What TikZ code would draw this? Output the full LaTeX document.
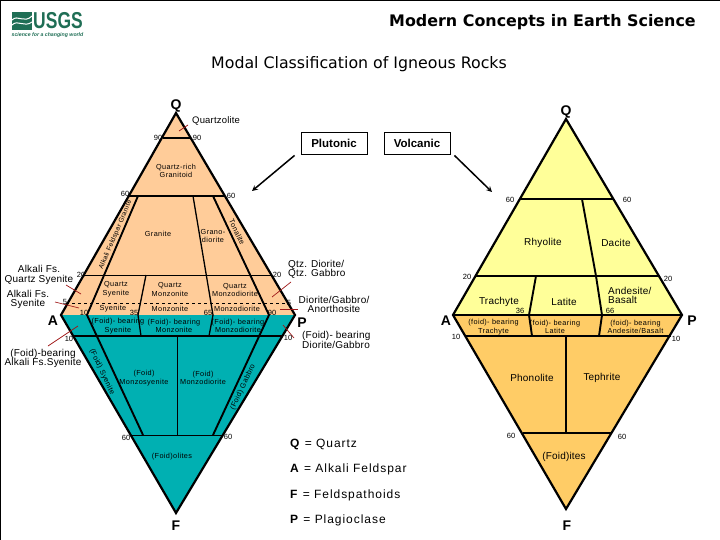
\documentclass[tikz,border=0pt]{standalone}
\usepackage{fontspec}
\setmainfont{Liberation Sans}
\newfontfamily\headfont{DejaVu Sans}
\newfontfamily\wideletters[LetterSpace=5]{Liberation Sans}
\newfontfamily\roomyletters[LetterSpace=2]{Liberation Sans}
\newfontfamily\keyletters[LetterSpace=8]{Liberation Sans}
\definecolor{peach}{HTML}{FFCC99}
\definecolor{foidteal}{HTML}{00B0B2}
\definecolor{paleyellow}{HTML}{FFFF99}
\definecolor{foidorange}{HTML}{FFCC66}
\definecolor{usgsgreen}{HTML}{1F6E55}
\definecolor{leadred}{HTML}{A01818}
\tikzset{
  outline/.style={line width=2.2pt,line join=miter},
  heavy/.style={line width=1.9pt},
  medium/.style={line width=1.3pt},
  light/.style={line width=0.9pt},
  leader/.style={leadred,line width=0.7pt},
  name label/.style={font=\wideletters\fontsize{7.3}{8.6}\selectfont,inner sep=0pt,align=center},
  rock label/.style={font=\roomyletters\fontsize{10}{9.4}\selectfont,inner sep=0pt,align=center},
  side label/.style={font=\roomyletters\fontsize{10}{9.4}\selectfont,inner sep=0pt,align=left,anchor=west},
  num label/.style={font=\fontsize{7.5}{8}\selectfont,inner sep=0pt},
  corner label/.style={font=\bfseries\fontsize{14}{14}\selectfont,inner sep=0pt},
  kind box/.style={draw,line width=0.8pt,minimum width=66pt,minimum height=22pt,inner sep=0pt,font=\bfseries\fontsize{11.5}{12}\selectfont},
  key label/.style={font=\keyletters\fontsize{12}{12}\selectfont,inner sep=0pt,anchor=west},
}
\begin{document}
\begin{tikzpicture}[x=1pt,y=-1pt]
  \useasboundingbox (0,0) rectangle (720,540);
  \draw[line width=2pt] (0,540) -- (0,0) -- (720,0);
  % logo
  \fill[usgsgreen] (12,12) rectangle (32,30);
  \draw[white,line width=1pt] (12,20) .. controls (18,14) and (24,24) .. (32,16);
  \draw[white,line width=1pt] (12,25) .. controls (18,19) and (24,28) .. (32,22);
  \node[usgsgreen,font=\bfseries\fontsize{23}{23}\selectfont,inner sep=0pt,xscale=0.76] (usgs) at (58,21) {USGS};
  \node[usgsgreen,font=\bfseries\itshape\fontsize{5.2}{6}\selectfont,inner sep=0pt] (tagline) at (47.5,35) {science for a changing world};
  % titles
  \node[font=\headfont\bfseries\fontsize{15.9}{16}\selectfont,inner sep=0pt] (course) at (542.5,22) {Modern Concepts in Earth Science};
  \node[font=\headfont\fontsize{15.8}{16}\selectfont,inner sep=0pt] (title) at (359,64) {Modal Classification of Igneous Rocks};
  \node[kind box] (plutonic) at (334,143) {Plutonic};
  \node[kind box] (volcanic) at (417,143) {Volcanic};
  \coordinate (plutTip) at (252,191);
  \coordinate (volcTip) at (492,192);
  \draw[-stealth,line width=1.5pt] (plutonic.south west) ++(-6,1) -- (plutTip);
  \draw[-stealth,line width=1.5pt] (volcanic.south east) ++(4,1) -- (volcTip);

  % plutonic diagram
  \coordinate (lQ) at (176,113);
  \coordinate (lA) at (61,315);
  \coordinate (lP) at (295,315);
  \coordinate (lF) at (176,513);
  \fill[peach] (lQ) -- (lA) -- (lP) -- cycle;
  \fill[foidteal] (lA) -- (lF) -- (lP) -- cycle;
  \coordinate (l90a) at (163,138);
  \coordinate (l90b) at (191,138);
  \coordinate (l60a) at (129,196);
  \coordinate (l60b) at (225,196);
  \coordinate (l20a) at (84,275);
  \coordinate (l20b) at (271,275);
  \coordinate (l5a) at (66,303);
  \coordinate (l5b) at (288,303);
  \coordinate (l10a) at (74,336);
  \coordinate (l10b) at (283,336);
  \coordinate (l60c) at (131,435);
  \coordinate (l60d) at (222,435);
  \coordinate (lAf) at (138,196);
  \coordinate (lAfm) at (87,315);
  \coordinate (lAfs) at (143,435);
  \coordinate (lTo) at (213,196);
  \coordinate (lTom) at (269,315);
  \coordinate (lTos) at (213,435);
  \draw[heavy] (l90a) -- (l90b);
  \draw[heavy] (l60a) -- (l60b);
  \draw[light] (l20a) -- (l20b);
  \draw[light,dashed] (l5a) -- (l5b);
  \draw[heavy] (l10a) -- (l10b);
  \draw[light] (l60c) -- (l60d);
  \draw[heavy] (lAf) -- (lAfm) -- (lAfs);
  \draw[heavy] (lTo) -- (lTom) -- (lTos);
  \draw[medium] (146,275) coordinate (l35t) -- (138,315) coordinate (l35m) -- (141,336) coordinate (l35b);
  \draw[medium] (193,196) coordinate (l65t) -- (213,315) coordinate (l65m) -- (209,336) coordinate (l65b);
  \draw[light] (177,336) coordinate (l50t) -- (177,435) coordinate (l50b);
  \draw[outline] (lQ) -- (lA) -- (lF) -- (lP) -- cycle;

  \draw[leader] (179,131) coordinate (qzA) -- (188,125) coordinate (qzB);
  \draw[leader] (66,285) coordinate (afqA) -- (81,294) coordinate (afqB);
  \draw[leader] (55,302) coordinate (afsA) -- (79,308) coordinate (afsB);
  \draw[leader] (48,346) coordinate (afbA) -- (78,326) coordinate (afbB);
  \draw[leader] (291,282) coordinate (qdA) -- (272,297) coordinate (qdB);
  \draw[leader] (280,309) coordinate (dgA) -- (298,309) coordinate (dgB);
  \draw[leader] (283,325) coordinate (fdA) -- (294,338) coordinate (fdB);

  \node[corner label] (lQl) at (176,106) {Q};
  \node[corner label] (lAl) at (53,321) {A};
  \node[corner label] (lPl) at (302,323) {P};
  \node[corner label] (lFl) at (176,526) {F};
  \node[num label] (n90a) at (158,138) {90};
  \node[num label] (n90b) at (197,138) {90};
  \node[num label] (n60a) at (125,194) {60};
  \node[num label] (n60b) at (231,196) {60};
  \node[num label] (n20a) at (81,275) {20};
  \node[num label] (n20b) at (277,275) {20};
  \node[num label] (n5a) at (65,302) {5};
  \node[num label] (n5b) at (289,303) {5};
  \node[num label] (n10a) at (84,313) {10};
  \node[num label] (n35) at (134,313) {35};
  \node[num label] (n65) at (208,313) {65};
  \node[num label] (n90c) at (272,313) {90};
  \node[num label] (n10b) at (69,339) {10};
  \node[num label] (n10c) at (288,338) {10};
  \node[num label] (n60c) at (126,438) {60};
  \node[num label] (n60d) at (228,437) {60};

  \node[rock label,anchor=west,font=\roomyletters\fontsize{9.5}{9}\selectfont] (quartzolite) at (192,121) {Quartzolite};
  \node[name label] (qrich) at (176,171) {Quartz-rich\\Granitoid};
  \node[name label] (granite) at (158,234) {Granite};
  \node[name label] (grano) at (213,236) {Grano-\\diorite};
  \node[name label,rotate=67,font=\wideletters\fontsize{6.7}{8}\selectfont] (afgranite) at (115.5,235) {Alkali Feldspar Granite};
  \node[name label,rotate=-65] (tonalite) at (237,232) {Tonalite};
  \node[name label] (qsy) at (116,289.5) {Quartz\\Syenite};
  \node[name label] (qmz) at (170,289.5) {Quartz\\Monzonite};
  \node[name label] (qmd) at (235,290) {Quartz\\Monzodiorite};
  \node[name label] (sy) at (113,309) {Syenite};
  \node[name label] (mz) at (170,309) {Monzonite};
  \node[name label] (md) at (237,309) {Monzodiorite};
  \node[name label] (fsy) at (118,326) {(Foid)- bearing\\Syenite};
  \node[name label] (fmz) at (174,326) {(Foid)- bearing\\Monzonite};
  \node[name label] (fmd) at (238,326) {(Foid)- bearing\\Monzodiorite};
  \node[name label,rotate=-65] (foidsy) at (102,372) {(Foid) Syenite};
  \node[name label] (fmzs) at (144,378) {(Foid)\\Monzosyenite};
  \node[name label] (fmzd) at (203,378) {(Foid)\\Monzodiorite};
  \node[name label,rotate=65] (foidgb) at (243,387) {(Foid) Gabbro};
  \node[name label] (foidolites) at (172,457) {(Foid)olites};

  \node[rock label] (afqs) at (39,275) {Alkali Fs.\\Quartz Syenite};
  \node[rock label] (afs) at (28,299.5) {Alkali Fs.\\Syenite};
  \node[rock label] (fafs) at (43,358.5) {(Foid)-bearing\\Alkali Fs.Syenite};
  \node[side label] (qtz) at (288,269.5) {Qtz. Diorite/\\Qtz. Gabbro};
  \node[rock label] (dga) at (334,304.5) {Diorite/Gabbro/\\Anorthosite};
  \node[side label] (fdg) at (302,340) {(Foid)- bearing\\Diorite/Gabbro};

  % volcanic diagram
  \coordinate (rQ) at (566,119);
  \coordinate (rA) at (453,315);
  \coordinate (rP) at (682,315);
  \coordinate (rF) at (566,509);
  \fill[paleyellow] (rQ) -- (rA) -- (rP) -- cycle;
  \fill[foidorange] (rA) -- (rF) -- (rP) -- cycle;
  \coordinate (r60a) at (520,199);
  \coordinate (r60b) at (614,199);
  \coordinate (r20a) at (476,276);
  \coordinate (r20b) at (659,276);
  \coordinate (r10a) at (465,336);
  \coordinate (r10b) at (671,336);
  \coordinate (r60c) at (523,433);
  \coordinate (r60d) at (612,433);
  \draw[heavy] (r60a) -- (r60b);
  \draw[line width=2.4pt] (r20a) -- (r20b);
  \draw[heavy] (rA) -- (rP);
  \draw[line width=2.4pt] (r10a) -- (r10b);
  \draw[heavy] (r60c) -- (r60d);
  \draw[heavy] (582,199) coordinate (rDa) -- (596,276) coordinate (rDb) -- (602,315) coordinate (rDc) -- (599,336) coordinate (rDd);
  \draw[heavy] (536,276) coordinate (rTa) -- (529,315) coordinate (rTb) -- (532,336) coordinate (rTc);
  \draw[heavy] (566,336) coordinate (rPh) -- (566,433) coordinate (rTe);
  \draw[outline] (rQ) -- (rA) -- (rF) -- (rP) -- cycle;

  \node[corner label] (rQl) at (566,112) {Q};
  \node[corner label] (rAl) at (446,321) {A};
  \node[corner label] (rPl) at (692,321) {P};
  \node[corner label] (rFl) at (567,526) {F};
  \node[num label] (m60a) at (510,200) {60};
  \node[num label] (m60b) at (627,200) {60};
  \node[num label] (m20a) at (467,277) {20};
  \node[num label] (m20b) at (668,279) {20};
  \node[num label] (m36) at (520,311) {36};
  \node[num label] (m66) at (610,311) {66};
  \node[num label] (m10a) at (456,337) {10};
  \node[num label] (m10b) at (676,339) {10};
  \node[num label] (m60c) at (511,436) {60};
  \node[num label] (m60d) at (622,437) {60};

  \node[rock label] (rhyolite) at (543,243) {Rhyolite};
  \node[rock label] (dacite) at (616,243) {Dacite};
  \node[rock label] (trachyte) at (499,302) {Trachyte};
  \node[rock label] (latite) at (564,302) {Latite};
  \node[side label] (andesite) at (608,295.5) {Andesite/\\Basalt};
  \node[name label] (ftr) at (493.5,327) {(foid)- bearing\\Trachyte};
  \node[name label] (fla) at (555,327) {(foid)- bearing\\Latite};
  \node[name label] (fan) at (635.5,327) {(foid)- bearing\\Andesite/Basalt};
  \node[rock label] (phonolite) at (532,378) {Phonolite};
  \node[rock label] (tephrite) at (602,378) {Tephrite};
  \node[rock label] (foidites) at (564,457) {(Foid)ites};

  % key
  \node[key label] (keyQ) at (290,444) {\textbf{Q} = Quartz};
  \node[key label] (keyA) at (290,469) {\textbf{A} = Alkali Feldspar};
  \node[key label] (keyF) at (290,495) {\textbf{F} = Feldspathoids};
  \node[key label] (keyP) at (290,520) {\textbf{P} = Plagioclase};
\end{tikzpicture}
\end{document}
